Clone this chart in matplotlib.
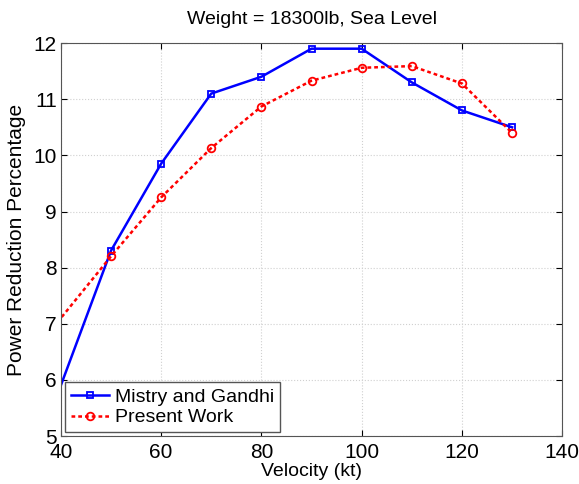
import matplotlib
matplotlib.use('Agg')
import matplotlib.pyplot as plt

plt.rcParams['font.family'] = ['Liberation Sans', 'DejaVu Sans']

# velocity (kt) and power reduction (%)
vel = [30, 50, 60, 70, 80, 90, 100, 110, 120, 130]
mistry = [3.5, 8.3, 9.85, 11.1, 11.4, 11.9, 11.9, 11.3, 10.8, 10.5]
present = [6.0, 8.2, 9.25, 10.13, 10.87, 11.33, 11.56, 11.59, 11.28, 10.4]

xticks = [40, 60, 80, 100, 120, 140]
yticks = [5, 6, 7, 8, 9, 10, 11, 12]

fig = plt.figure(figsize=(5.79, 4.84), dpi=100)
ax = fig.add_axes([0.105, 0.099, 0.866, 0.812])

ax.plot(vel, mistry, color='#0000ff', lw=1.8, marker='s', ms=5,
        mfc='none', mew=1.3, label='Mistry and Gandhi')
ax.plot(vel, present, color='#ff0000', lw=1.8, ls=(0, (1.5, 1.2)), marker='o', ms=5.5,
        mfc='none', mew=1.3, label='Present Work')

ax.set_xlim(40, 140)
ax.set_ylim(5, 12)
ax.set_xticks(xticks)
ax.set_yticks(yticks)
ax.grid(True, color='#d0d0d0', ls=':', lw=0.8)
ax.tick_params(direction='in', top=True, right=True, labelsize=15, length=4)
ax.tick_params(axis='x', pad=5)
ax.tick_params(axis='y', pad=3)
for s in ax.spines.values():
    s.set_color('#555555')

ax.set_xlabel('Velocity (kt)', fontsize=14, labelpad=1)
ax.set_ylabel('Power Reduction Percentage', fontsize=15, labelpad=5)
ax.set_title('Weight = 18300lb, Sea Level', fontsize=14, pad=14)

leg = ax.legend(loc='lower left', fontsize=14, fancybox=False, framealpha=1,
                edgecolor='#555555', borderaxespad=0.2, handlelength=2.0,
                borderpad=0.3, labelspacing=0.15, handletextpad=0.3)

fig.savefig('out.png', dpi=100)
